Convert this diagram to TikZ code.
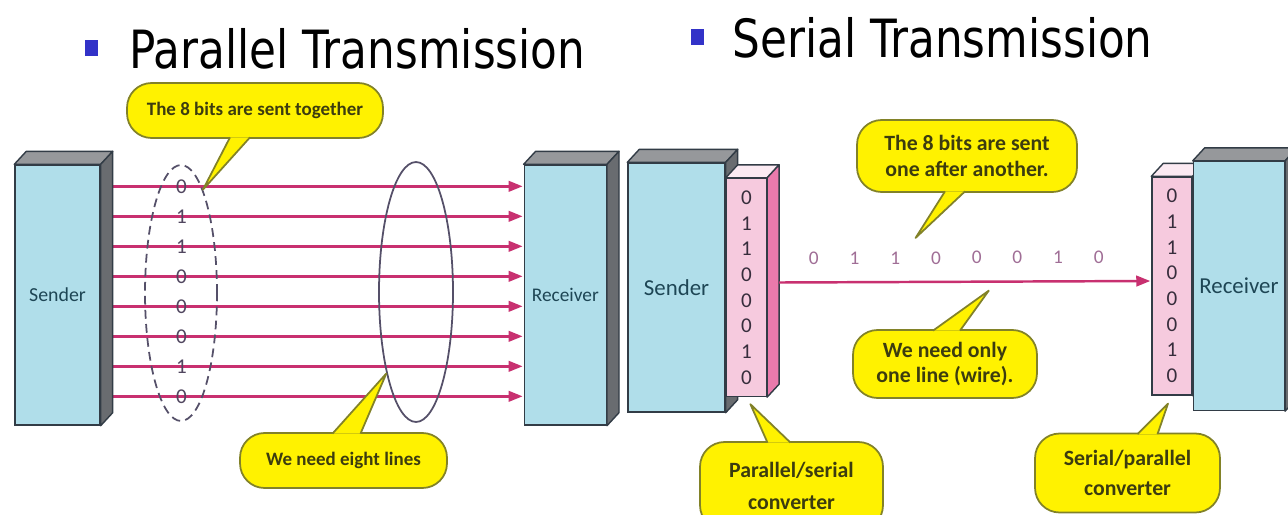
\documentclass[tikz,border=0pt]{standalone}
\usepackage{fontspec}
\setmainfont{Carlito}
\newfontfamily\titlefont[FakeStretch=0.83]{DejaVu Sans}
\usepackage{xcolor}
\usetikzlibrary{arrows.meta, positioning, calc, shapes.geometric}

\definecolor{boxblue}{RGB}{176,222,234}
\definecolor{boxtop}{RGB}{150,152,155}
\definecolor{boxside}{RGB}{105,108,112}
\definecolor{boxedge}{RGB}{50,60,70}
\definecolor{cvfront}{RGB}{246,202,222}
\definecolor{cvside}{RGB}{234,122,172}
\definecolor{cvtop}{RGB}{251,234,242}
\definecolor{wirecol}{RGB}{200,48,112}
\definecolor{callfill}{RGB}{255,242,0}
\definecolor{calledge}{RGB}{130,130,40}
\definecolor{calltext}{RGB}{60,60,15}
\definecolor{bulletcol}{RGB}{50,50,200}
\definecolor{bitgray}{RGB}{80,70,95}
\definecolor{bitmauve}{RGB}{160,110,150}
\definecolor{bitdark}{RGB}{55,45,60}
\definecolor{labeltext}{RGB}{30,70,85}
\definecolor{ringcol}{RGB}{85,80,105}

% top and side faces of a box
\newcommand{\depthfaces}[3]{%
  \filldraw[draw=boxedge, fill=#2, line width=0.8pt, line join=round] (#1.north west) -- ++(12,-13) -- ($(#1.north east)+(12,-13)$) -- (#1.north east) -- cycle;
  \filldraw[draw=boxedge, fill=#3, line width=0.8pt, line join=round] (#1.north east) -- ++(12,-13) -- ($(#1.south east)+(12,-13)$) -- (#1.south east) -- cycle;
}
% pointer of a speech bubble
\newcommand{\notetail}[6]{%
  \fill[callfill] ($(#1.#2)+(#3,#5)$) -- (#6) -- ($(#1.#2)+(#4,#5)$) -- cycle;
  \draw[calledge, line width=1pt, line join=round] ($(#1.#2)+(#3,#5)$) -- (#6) -- ($(#1.#2)+(#4,#5)$);
}

\begin{document}
\begin{tikzpicture}[x=0.02cm, y=-0.02cm,
    front/.style={draw=boxedge, fill=boxblue, line width=0.8pt, inner sep=0pt, text=labeltext},
    conv/.style={draw=boxedge, fill=cvfront, line width=0.8pt, inner sep=0pt, minimum width=0.8cm, minimum height=4.36cm, align=center, text=bitdark, font=\fontsize{12}{14.6}\selectfont},
    wire/.style={draw=wirecol, line width=1.4pt, -{Triangle[length=8pt, width=6pt]}},
    bit/.style={text=bitgray, font=\fontsize{12}{12}\selectfont, inner sep=0pt},
    sbit/.style={text=bitmauve, font=\fontsize{11}{12}\selectfont, inner sep=0pt},
    bubble/.style={draw=calledge, fill=callfill, line width=1pt, rounded corners=14pt, align=center, text=calltext, inner sep=0pt},
    heading/.style={font=\titlefont\fontsize{30}{34}\selectfont, inner sep=0pt, anchor=base west},
    bullet/.style={fill=bulletcol, minimum width=0.26cm, minimum height=0.32cm, inner sep=0pt}
  ]
  \useasboundingbox (0,0) rectangle (1288,514);
  \fill[white] (0,0) rectangle (1288,514);

  % Titles
  \node[heading] (ptitle) at (129,68) {Parallel Transmission};
  \node[bullet, left=0.62cm of ptitle.west] (pbullet) {};
  \node[heading] (stitle) at (732,57) {Serial Transmission};
  \node[bullet, left=0.56cm of stitle.west] (sbullet) {};

  % Parallel: boxes
  \node[front, minimum width=1.7cm, minimum height=5.2cm, font=\fontsize{11.3}{13}\selectfont] (psend) at (57.5,295) {Sender};
  \node[front, minimum width=1.64cm, minimum height=5.2cm, font=\fontsize{11}{13}\selectfont, right=8.46cm of psend] (precv) {Receiver};

  % Parallel: eight wires
  \foreach \b [count=\i] in {0,1,1,0,0,0,1,0}{
    \pgfmathsetmacro{\wy}{22+30*(\i-1)}
    \draw[wire] ($(psend.north east)+(10,\wy)$) -- node[bit, pos=0.172] (pb\i) {\b} ($(precv.north west)+(-1,\wy)$);
  }
  \depthfaces{psend}{boxtop}{boxside}
  \depthfaces{precv}{boxtop}{boxside}

  % Parallel: the two rings
  \node[ellipse, draw=ringcol, dash pattern=on 5pt off 3pt, line width=1pt, minimum width=1.44cm, minimum height=5.12cm, inner sep=0pt] (together) at (181,293) {};
  \node[ellipse, draw=ringcol, line width=1pt, minimum width=1.48cm, minimum height=5.2cm, inner sep=0pt] (eight) at (416,292) {};

  % Serial: sender and converter
  \node[front, minimum width=1.94cm, minimum height=4.98cm, font=\fontsize{13}{15}\selectfont] (ssend) at (676.5,287.5) {Sender};
  \depthfaces{ssend}{boxtop}{boxside}
  \node[conv, right=0pt of ssend] (lscv) {0\\1\\1\\0\\0\\0\\1\\0};
  \depthfaces{lscv}{cvtop}{cvside}

  % Serial: converter and receiver
  \node[conv] (rscv) at (1172,286) {0\\1\\1\\0\\0\\0\\1\\0};
  \depthfaces{rscv}{cvtop}{cvside}
  \node[front, minimum width=1.82cm, minimum height=4.98cm, font=\fontsize{13}{15}\selectfont, right=0pt of rscv] (srecv) {Receiver};
  \depthfaces{srecv}{boxtop}{boxside}

  % Serial: one wire
  \draw[wire] ($(lscv.east)+(12,-5)$) -- ($(rscv.west)+(-1,-5)$);
  \foreach \b [count=\i] in {0,1,1,0,0,0,1,0}{
    \node[sbit] (sb\i) at ($(lscv.east)!{0.1214+0.106*(\i-1)}!(rscv.west)+(0,-29)$) {\b};
  }

  % Speech bubbles
  \node[bubble, minimum width=5.12cm, minimum height=1.1cm, font=\bfseries\fontsize{10.8}{13}\selectfont] (togethernote) at (255,110.5) {The 8 bits are sent together};
  \node[bubble, minimum width=4.14cm, minimum height=1.1cm, font=\bfseries\fontsize{10.8}{13}\selectfont] (eightnote) at (343.5,460.5) {We need eight lines};
  \node[bubble, minimum width=4.4cm, minimum height=1.44cm, font=\bfseries\fontsize{12.4}{14.5}\selectfont] (serialnote) at (967,156) {The 8 bits are sent\\one after another.};
  \node[bubble, minimum width=3.68cm, minimum height=1.36cm, font=\bfseries\fontsize{12.4}{14.5}\selectfont] (linenote) at (945,364) {We need only\\one line (wire).};
  \node[bubble, minimum width=3.66cm, minimum height=1.76cm, font=\bfseries\fontsize{12.4}{18.5}\selectfont] (psnote) at (791.5,486) {Parallel/serial\\converter};
  \node[bubble, minimum width=3.7cm, minimum height=1.58cm, font=\bfseries\fontsize{12.4}{17.5}\selectfont] (spnote) at (1127.5,473) {Serial/parallel\\converter};

  % Pointer tips
  \coordinate (togethertip) at (together.78);
  \coordinate (eighttip) at (eight.250);
  \coordinate (serialtip) at ($(sb3)!0.5!(sb4)+(0,-20)$);
  \coordinate (linetip) at ($(lscv.east)!0.577!(rscv.west)+(0,4)$);
  \coordinate (pstip) at ($(lscv.south)+(4,7)$);
  \coordinate (sptip) at ($(rscv.south)+(-4,8)$);

  \notetail{togethernote}{south}{-25}{-5}{-1.5}{togethertip}
  \notetail{eightnote}{north}{-11}{17}{1.5}{eighttip}
  \notetail{serialnote}{south}{-22}{-2}{-1.5}{serialtip}
  \notetail{linenote}{north}{-12}{15}{1.5}{linetip}
  \notetail{psnote}{north}{-24}{-1}{1.5}{pstip}
  \notetail{spnote}{north}{10}{30}{1.5}{sptip}

\end{tikzpicture}
\end{document}
